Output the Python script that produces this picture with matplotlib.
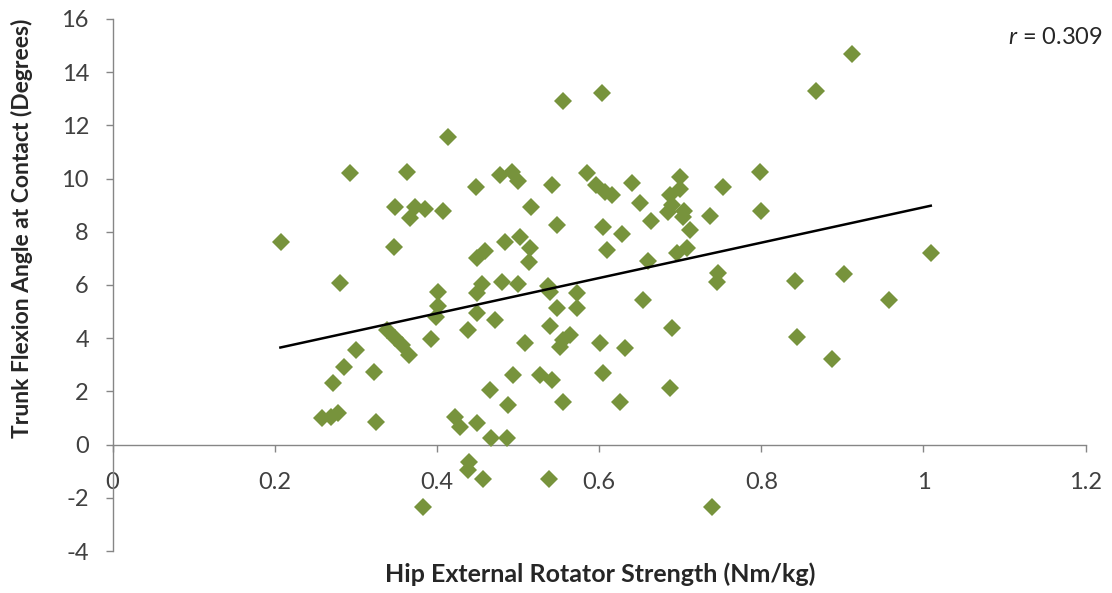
import matplotlib
matplotlib.use("Agg")
import matplotlib.pyplot as plt
import numpy as np

plt.rcParams["font.family"] = ["Lato", "DejaVu Sans"]
plt.rcParams["mathtext.fontset"] = "custom"
plt.rcParams["mathtext.rm"] = "Lato"
plt.rcParams["mathtext.it"] = "Lato:italic"
plt.rcParams["axes.unicode_minus"] = False

# hip external rotator strength (Nm/kg)
strength = [
    0.208, 0.258, 0.270, 0.278, 0.272, 0.285, 0.300, 0.322, 0.325, 0.338,
    0.348, 0.357, 0.366, 0.393, 0.281, 0.293, 0.363, 0.348, 0.373, 0.385,
    0.367, 0.408, 0.347, 0.383,
    0.401, 0.401, 0.399, 0.414, 0.448, 0.459, 0.449, 0.484, 0.502, 0.515,
    0.513, 0.455, 0.480, 0.500, 0.537, 0.449, 0.449, 0.472, 0.438, 0.422,
    0.428, 0.449, 0.467, 0.486, 0.440, 0.438, 0.457, 0.465, 0.488, 0.494,
    0.478, 0.492, 0.500, 0.542, 0.585, 0.596, 0.607, 0.616, 0.556, 0.604,
    0.516, 0.548, 0.605, 0.610,
    0.540, 0.573, 0.573, 0.548, 0.540, 0.509, 0.556, 0.564, 0.552, 0.601,
    0.605, 0.527, 0.542, 0.556, 0.538,
    0.640, 0.700, 0.753, 0.798, 0.800, 0.737, 0.650, 0.687, 0.700, 0.690,
    0.705, 0.685, 0.703, 0.664, 0.712, 0.628, 0.708, 0.696, 0.660, 0.747,
    0.745, 0.654, 0.690, 0.632, 0.626, 0.687, 0.739,
    0.841, 0.844, 0.887, 0.902, 0.957, 1.009, 0.868, 0.912,
]

# trunk flexion angle at contact (degrees)
flexion = [
    7.63, 1.00, 1.05, 1.20, 2.33, 2.90, 3.57, 2.74, 0.86, 4.30,
    4.00, 3.76, 3.35, 3.98, 6.07, 10.20, 10.26, 8.95, 8.95, 8.85,
    8.53, 8.80, 7.44, -2.33,
    5.75, 5.20, 4.80, 11.58, 9.70, 7.26, 7.03, 7.63, 7.82, 7.40,
    6.88, 6.05, 6.10, 6.05, 5.95, 5.70, 4.96, 4.70, 4.32, 1.05,
    0.68, 0.83, 0.26, 0.26, -0.64, -0.94, -1.30, 2.07, 1.50, 2.63,
    10.15, 10.26, 9.90, 9.77, 10.20, 9.75, 9.50, 9.40, 12.90, 13.20,
    8.95, 8.25, 8.18, 7.30,
    5.75, 5.70, 5.15, 5.15, 4.44, 3.83, 3.95, 4.13, 3.68, 3.83,
    2.70, 2.63, 2.44, 1.62, -1.28,
    9.85, 10.07, 9.70, 10.26, 8.80, 8.60, 9.10, 9.40, 9.60, 9.00,
    8.80, 8.76, 8.57, 8.40, 8.08, 7.90, 7.40, 7.20, 6.90, 6.45,
    6.10, 5.45, 4.40, 3.65, 1.62, 2.14, -2.33,
    6.15, 4.06, 3.23, 6.43, 5.45, 7.20, 13.30, 14.70,
]

# linear trend line end points
trend_x = [0.207, 1.009]
trend_y = [3.65, 8.98]

x_ticks = [0, 0.2, 0.4, 0.6, 0.8, 1.0, 1.2]
x_tick_labels = ["0", "0.2", "0.4", "0.6", "0.8", "1", "1.2"]
y_ticks = list(range(-4, 17, 2))

GREEN = "#77933c"
AXIS_GRAY = "#868686"
TEXT = "#404040"

fig = plt.figure(figsize=(11.12, 5.93), dpi=100, facecolor="white")
ax = fig.add_axes([0.1012, 0.0708, 0.8751, 0.8972])

ax.plot(strength, flexion, linestyle="none", marker="D", markersize=9.5,
        color=GREEN, markeredgewidth=0, zorder=3)
ax.plot(trend_x, trend_y, color="black", linewidth=1.8, zorder=4)

ax.set_xlim(0, 1.2)
ax.set_ylim(-4, 16)
ax.set_xticks(x_ticks)
ax.set_xticklabels(x_tick_labels)
ax.set_yticks(y_ticks)

ax.spines["top"].set_visible(False)
ax.spines["right"].set_visible(False)
ax.spines["bottom"].set_position(("data", 0))
for side in ("left", "bottom"):
    ax.spines[side].set_color(AXIS_GRAY)
    ax.spines[side].set_linewidth(1.0)

ax.tick_params(axis="both", direction="out", length=5, width=1.0,
               color=AXIS_GRAY, labelsize=17, labelcolor=TEXT, pad=12)
ax.tick_params(axis="x", pad=15)

fig.text(0.540, 0.032, "Hip External Rotator Strength (Nm/kg)",
         ha="center", va="center", fontsize=18, fontweight="bold",
         color="#262626")
fig.text(0.020, 1 - 228 / 593, "Trunk Flexion Angle at Contact (Degrees)",
         ha="center", va="center", rotation=90, fontsize=16.5,
         fontweight="bold", color="#262626")

fig.text(1103 / 1112, 1 - 38 / 593, r"$r$ = 0.309", ha="right",
         va="center", fontsize=17, color="#262626")

fig.savefig("out.png", dpi=100, facecolor="white")
